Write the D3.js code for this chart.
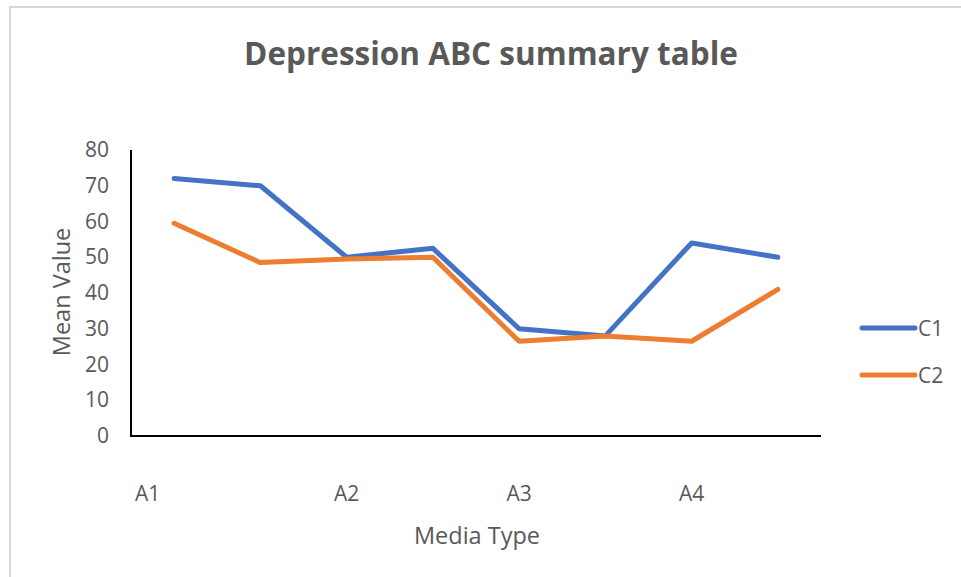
<!DOCTYPE html>
<html>
<head>
<meta charset="utf-8">
<script src="https://cdn.jsdelivr.net/npm/d3@7/dist/d3.min.js"></script>
<style>
  html, body { margin: 0; padding: 0; background: #fff; }
  svg { display: block; font-family: "Open Sans", "Liberation Sans", sans-serif; }
</style>
</head>
<body>
<svg id="chart" width="961" height="577"></svg>
<script>
// Category axis: eight points, labelled on every other one
const categories = ["A1", "", "A2", "", "A3", "", "A4", ""];
const seriesNames = ["C1", "C2"];
const c1Values = [72, 70, 50, 52.5, 30, 28, 54, 50];
const c2Values = [59.5, 48.5, 49.5, 50, 26.5, 28, 26.5, 41];
const yTicks = [0, 10, 20, 30, 40, 50, 60, 70, 80];
const seriesColors = ["#4472C4", "#ED7D31"];

const svg = d3.select("#chart");
const textColor = "#595959";

// Outer chart frame
svg.append("path")
  .attr("d", "M10,600 L10,7 L970,7")
  .attr("fill", "none")
  .attr("stroke", "#d9d9d9")
  .attr("stroke-width", 2);

const plot = { left: 131, right: 821, top: 150, bottom: 436 };

const x = d3.scaleBand()
  .domain(d3.range(categories.length))
  .range([plot.left, plot.right]);

const y = d3.scaleLinear()
  .domain([0, 80])
  .range([plot.bottom, plot.top]);

// Title
svg.append("text")
  .attr("x", 491)
  .attr("y", 65)
  .attr("text-anchor", "middle")
  .attr("font-size", 31.5)
  .attr("font-weight", "bold")
  .attr("fill", textColor)
  .text("Depression ABC summary table");

// Y axis labels
const yAxis = svg.append("g")
  .attr("transform", `translate(${plot.left},0)`)
  .call(d3.axisLeft(y).tickValues(yTicks).tickSize(0).tickPadding(22));
yAxis.select(".domain").remove();
yAxis.selectAll("text")
  .attr("font-size", 21)
  .attr("fill", textColor)
  .attr("font-family", "Open Sans, sans-serif");

// X axis labels
const xAxis = svg.append("g")
  .attr("transform", `translate(0,${plot.bottom})`)
  .call(d3.axisBottom(x).tickSize(0).tickPadding(50).tickFormat(i => categories[i]));
xAxis.select(".domain").remove();
xAxis.selectAll("text")
  .attr("font-size", 21)
  .attr("fill", textColor)
  .attr("font-family", "Open Sans, sans-serif");
// the first label sits against the start of its band
xAxis.selectAll(".tick")
  .filter(i => i === 0)
  .select("text")
  .attr("text-anchor", "start")
  .attr("x", -x.bandwidth() / 2 + 4);

// Axis lines
svg.append("line")
  .attr("x1", plot.left).attr("x2", plot.left)
  .attr("y1", y(80)).attr("y2", y(0))
  .attr("stroke", "#000").attr("stroke-width", 2);
svg.append("line")
  .attr("x1", plot.left - 1).attr("x2", plot.right)
  .attr("y1", y(0)).attr("y2", y(0))
  .attr("stroke", "#000").attr("stroke-width", 2);

// Axis titles
svg.append("text")
  .attr("transform", `translate(70,292) rotate(-90)`)
  .attr("text-anchor", "middle")
  .attr("font-size", 23.5)
  .attr("fill", textColor)
  .text("Mean Value");

svg.append("text")
  .attr("x", 477)
  .attr("y", 544)
  .attr("text-anchor", "middle")
  .attr("font-size", 23.5)
  .attr("fill", textColor)
  .text("Media Type");

// Series lines
const line = d3.line()
  .x((d, i) => x(i) + x.bandwidth() / 2)
  .y(d => y(d));

[c1Values, c2Values].forEach((vals, k) => {
  svg.append("path")
    .datum(vals)
    .attr("d", line)
    .attr("fill", "none")
    .attr("stroke", seriesColors[k])
    .attr("stroke-width", 5)
    .attr("stroke-linejoin", "round")
    .attr("stroke-linecap", "round");
});

// Legend
const legend = svg.append("g");
seriesNames.forEach((name, k) => {
  const ly = 328 + k * 47;
  legend.append("line")
    .attr("x1", 862).attr("x2", 915)
    .attr("y1", ly).attr("y2", ly)
    .attr("stroke", seriesColors[k])
    .attr("stroke-width", 5)
    .attr("stroke-linecap", "round");
  legend.append("text")
    .attr("x", 918)
    .attr("y", ly + 8)
    .attr("font-size", 21)
    .attr("fill", textColor)
    .text(name);
});
</script>
</body>
</html>
